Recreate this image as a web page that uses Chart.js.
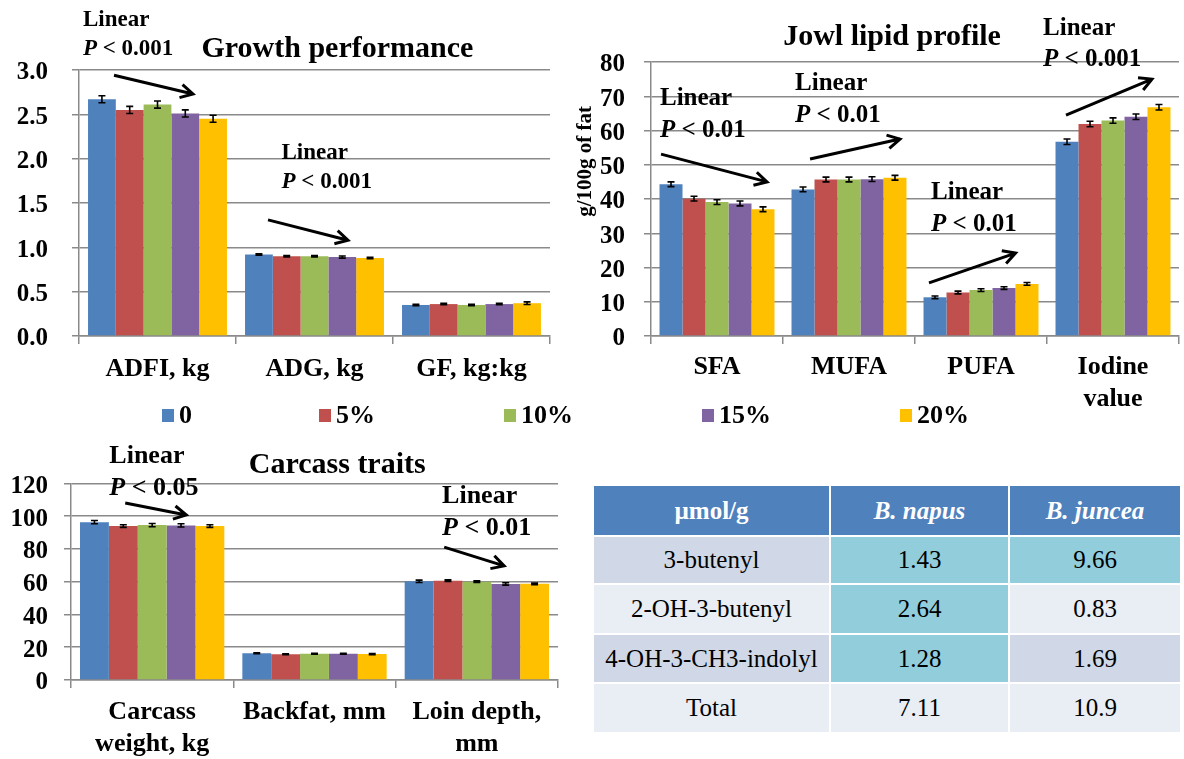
<!DOCTYPE html>
<html>
<head>
<meta charset="utf-8">
<script src="https://cdn.jsdelivr.net/npm/chart.js@4.4.1/dist/chart.umd.min.js"></script>
<style>
  html, body { margin: 0; padding: 0; background: #fff; }
  body { width: 1184px; height: 759px; position: relative; overflow: hidden;
         font-family: "Liberation Serif", "Times New Roman", serif; }
  canvas { position: absolute; }
  #growth  { left: 0;     top: 0; }
  #lipid   { left: 570px; top: 0; }
  #carcass { left: 0;     top: 440px; }
  #legend { position: absolute; left: 0; top: 399px; width: 1184px; height: 32px; }
  .item { position: absolute; top: 0; height: 32px; display: flex; align-items: center;
          font-weight: bold; font-size: 26px; color: #000; }
  .swatch { width: 12px; height: 13px; margin-right: 5px; }
  #gluc { position: absolute; left: 594px; top: 489px; display: grid;
          grid-template-columns: 235px 177px 170px; grid-template-rows: 46px 46px 48px 47px 48px;
          column-gap: 2px; row-gap: 2px; }
  .cell { display: flex; align-items: center; justify-content: center; font-size: 25px; color: #000; }
  .head { background: #4F81BD; color: #fff; font-weight: bold; margin-bottom: -3px; position: relative; top: -3px; }
  .head i { font-weight: bold; }
</style>
</head>
<body>
<canvas id="growth" width="575" height="400"></canvas>
<canvas id="lipid" width="614" height="440"></canvas>
<canvas id="carcass" width="590" height="319"></canvas>
<div id="legend"></div>
<div id="gluc"></div>

<script>
// Dietary inclusion levels (series)
const seriesNames  = ['0', '5%', '10%', '15%', '20%'];
const seriesColors = ['#4F81BD', '#C0504D', '#9BBB59', '#8064A2', '#FFC000'];

// Growth performance
const growthCategories = ['ADFI, kg', 'ADG, kg', 'GF, kg:kg'];
const growth0  = [2.67, 0.92, 0.35];
const growth5  = [2.55, 0.90, 0.36];
const growth10 = [2.61, 0.90, 0.35];
const growth15 = [2.51, 0.89, 0.36];
const growth20 = [2.45, 0.88, 0.37];
const growthErr0  = [0.04, 0.008, 0.008];
const growthErr5  = [0.04, 0.008, 0.008];
const growthErr10 = [0.04, 0.008, 0.008];
const growthErr15 = [0.04, 0.012, 0.008];
const growthErr20 = [0.04, 0.008, 0.015];
const growthTicks = [0, 0.5, 1.0, 1.5, 2.0, 2.5, 3.0];

// Jowl lipid profile, g/100 g of fat
const lipidCategories = ['SFA', 'MUFA', 'PUFA', ['Iodine', 'value']];
const lipid0  = [44.3, 42.8, 11.3, 56.7];
const lipid5  = [40.1, 45.7, 12.7, 61.9];
const lipid10 = [39.1, 45.7, 13.4, 62.9];
const lipid15 = [38.7, 45.8, 14.0, 64.0];
const lipid20 = [37.0, 46.2, 15.2, 66.8];
const lipidErr0  = [0.7, 0.7, 0.4, 0.8];
const lipidErr5  = [0.7, 0.7, 0.4, 0.8];
const lipidErr10 = [0.7, 0.7, 0.4, 0.8];
const lipidErr15 = [0.7, 0.7, 0.4, 0.8];
const lipidErr20 = [0.7, 0.7, 0.4, 0.8];
const lipidTicks = [0, 10, 20, 30, 40, 50, 60, 70, 80];

// Carcass traits
const carcassCategories = [['Carcass', 'weight, kg'], 'Backfat, mm', ['Loin depth,', 'mm']];
const carcass0  = [96.3, 16.3, 60.2];
const carcass5  = [93.9, 15.7, 60.6];
const carcass10 = [94.5, 16.0, 60.0];
const carcass15 = [94.3, 16.0, 58.6];
const carcass20 = [93.9, 15.8, 58.7];
const carcassErr0  = [1.0, 0.3, 0.7];
const carcassErr5  = [0.8, 0.3, 0.5];
const carcassErr10 = [1.0, 0.3, 0.5];
const carcassErr15 = [1.0, 0.3, 0.7];
const carcassErr20 = [0.8, 0.3, 0.5];
const carcassTicks = [0, 20, 40, 60, 80, 100, 120];

// Glucosinolate content of the two meals, µmol/g
const glucHeader    = ['µmol/g', 'B. napus', 'B. juncea'];
const glucCompounds = ['3-butenyl', '2-OH-3-butenyl', '4-OH-3-CH3-indolyl', 'Total'];
const glucNapus     = ['1.43', '2.64', '1.28', '7.11'];
const glucJuncea    = ['9.66', '0.83', '1.69', '10.9'];

const FONT = '"Liberation Serif", "Times New Roman", serif';
const GRID = '#8a8a8a';

// whisker for every bar: value ± error, through the y scale
const errorBars = {
  id: 'errorBars',
  afterDatasetsDraw(chart) {
    const ctx = chart.ctx, ys = chart.scales.y;
    ctx.save();
    ctx.strokeStyle = '#000';
    ctx.lineWidth = 1.6;
    chart.data.datasets.forEach((ds, i) => {
      chart.getDatasetMeta(i).data.forEach((bar, j) => {
        const v = ds.data[j], e = ds.errors[j];
        const x = bar.x, y1 = ys.getPixelForValue(v + e), y2 = ys.getPixelForValue(v - e);
        ctx.beginPath();
        ctx.moveTo(x, y1); ctx.lineTo(x, y2);
        ctx.moveTo(x - 3.5, y1); ctx.lineTo(x + 3.5, y1);
        ctx.moveTo(x - 3.5, y2); ctx.lineTo(x + 3.5, y2);
        ctx.stroke();
      });
    });
    ctx.restore();
  }
};

function arrow(ctx, x1, y1, x2, y2) {
  const a = Math.atan2(y2 - y1, x2 - x1), L = 14, w = 0.5;
  ctx.beginPath();
  ctx.moveTo(x1, y1); ctx.lineTo(x2, y2);
  ctx.moveTo(x2 - L * Math.cos(a - w), y2 - L * Math.sin(a - w));
  ctx.lineTo(x2, y2);
  ctx.lineTo(x2 - L * Math.cos(a + w), y2 - L * Math.sin(a + w));
  ctx.stroke();
}

// panel title, axis title and linear-trend notes, placed in data units
const notes = {
  id: 'notes',
  afterDraw(chart, args, o) {
    const ctx = chart.ctx, xs = chart.scales.x, ys = chart.scales.y;
    const px = v => xs.getPixelForValue(v), py = v => ys.getPixelForValue(v);
    ctx.save();
    ctx.fillStyle = '#000';
    ctx.strokeStyle = '#000';
    ctx.textBaseline = 'middle';
    if (o.title) {
      ctx.font = `bold 30px ${FONT}`;
      ctx.textAlign = 'center';
      ctx.fillText(o.title.text, px(o.title.at[0]), py(o.title.at[1]));
    }
    if (o.yTitle) {
      ctx.save();
      ctx.translate(ys.left + o.yTitle.dx, py(o.yTitle.at));
      ctx.rotate(-Math.PI / 2);
      ctx.font = `bold 21px ${FONT}`;
      ctx.textAlign = 'center';
      ctx.fillText(o.yTitle.text, 0, 0);
      ctx.restore();
    }
    ctx.textAlign = 'left';
    ctx.lineWidth = 3;
    (o.trends || []).forEach(t => {
      const x = px(t.text[0]), y = py(t.text[1]);
      ctx.font = `bold ${o.size}px ${FONT}`;
      ctx.fillText('Linear', x, y);
      const y2 = y + o.size * 1.25;
      ctx.font = `italic bold ${o.size}px ${FONT}`;
      ctx.fillText('P', x, y2);
      const w = ctx.measureText('P').width;
      ctx.font = `bold ${o.size}px ${FONT}`;
      ctx.fillText(' < ' + t.p, x + w, y2);
      arrow(ctx, px(t.from[0]), py(t.from[1]), px(t.to[0]), py(t.to[1]));
    });
    ctx.restore();
  }
};

function barChart(id, labels, series, errs, cfg) {
  return new Chart(document.getElementById(id), {
    type: 'bar',
    data: {
      labels,
      datasets: series.map((d, i) => ({
        label: seriesNames[i], data: d, errors: errs[i],
        backgroundColor: seriesColors[i], borderWidth: 0,
        categoryPercentage: cfg.cat, barPercentage: 1
      }))
    },
    options: {
      responsive: false, animation: false, devicePixelRatio: 1,
      layout: { padding: cfg.pad },
      events: [],
      plugins: { legend: { display: false }, tooltip: { enabled: false }, notes: cfg.notes },
      scales: {
        x: {
          grid: { offset: true, drawOnChartArea: false, color: GRID, lineWidth: 1.5, tickLength: 8 },
          border: { color: GRID, width: 1.5 },
          ticks: { color: '#000', font: { family: FONT, size: 26, weight: 'bold', lineHeight: 1.2 },
                   padding: cfg.xPad, maxRotation: 0, autoSkip: false },
          afterFit: s => { s.height = cfg.xH; }
        },
        y: {
          min: cfg.ticks[0], max: cfg.ticks[cfg.ticks.length - 1],
          afterBuildTicks: s => { s.ticks = cfg.ticks.map(v => ({ value: v })); },
          grid: { color: GRID, lineWidth: 1.5, tickLength: 7 },
          border: { color: GRID, width: 1.5 },
          ticks: { color: '#000', font: { family: FONT, size: 25, weight: 'bold' },
                   padding: cfg.yPad, labelOffset: 3, autoSkip: false,
                   callback: v => v.toFixed(cfg.dec) },
          afterFit: s => { s.width = cfg.yW; }
        }
      }
    },
    plugins: [errorBars, notes]
  });
}

barChart('growth', growthCategories,
  [growth0, growth5, growth10, growth15, growth20],
  [growthErr0, growthErr5, growthErr10, growthErr15, growthErr20],
  { cat: 0.885, pad: { left: 0, top: 70, right: 25, bottom: 0 }, xH: 64, yW: 79,
    xPad: 10, yPad: 24, ticks: growthTicks, dec: 1,
    notes: {
      size: 23,
      title: { text: 'Growth performance', at: [1.146, 3.23] },
      trends: [
        { text: [-0.475, 3.56], p: '0.001', from: [-0.277, 2.94], to: [0.226, 2.73] },
        { text: [0.79, 2.06],  p: '0.001', from: [0.704, 1.31], to: [1.213, 1.08] }
      ]
    } });

barChart('lipid', lipidCategories,
  [lipid0, lipid5, lipid10, lipid15, lipid20],
  [lipidErr0, lipidErr5, lipidErr10, lipidErr15, lipidErr20],
  { cat: 0.871, pad: { left: 0, top: 62, right: 5, bottom: 0 }, xH: 104, yW: 81,
    xPad: 8, yPad: 19, ticks: lipidTicks, dec: 0,
    notes: {
      size: 25,
      title: { text: 'Jowl lipid profile', at: [1.326, 87.3] },
      yTitle: { text: 'g/100g of fat', at: 51, dx: 16 },
      trends: [
        { text: [-0.432, 69.2], p: '0.01',  from: [-0.424, 53.1], to: [0.379, 45.0] },
        { text: [0.591, 73.6],  p: '0.01',  from: [0.705, 51.7],  to: [1.386, 57.5] },
        { text: [1.621, 41.8],  p: '0.01',  from: [1.606, 15.5],  to: [2.262, 24.2] },
        { text: [2.47, 89.9],   p: '0.001', from: [2.644, 64.5],  to: [3.295, 75.0] }
      ]
    } });

barChart('carcass', carcassCategories,
  [carcass0, carcass5, carcass10, carcass15, carcass20],
  [carcassErr0, carcassErr5, carcassErr10, carcassErr15, carcassErr20],
  { cat: 0.889, pad: { left: 0, top: 43.3, right: 32, bottom: 0 }, xH: 79, yW: 71,
    xPad: 9, yPad: 16, ticks: carcassTicks, dec: 0,
    notes: {
      size: 26,
      title: { text: 'Carcass traits', at: [1.14, 131.2] },
      trends: [
        { text: [-0.264, 136.7], p: '0.05', from: [-0.166, 108.0], to: [0.21, 100.7] },
        { text: [1.786, 112.3],  p: '0.01', from: [1.799, 81.1],   to: [2.168, 69.6] }
      ]
    } });

// shared legend row
const legendLeft = [162, 319, 504, 702, 900];
const legend = document.getElementById('legend');
seriesNames.forEach((name, i) => {
  const item = document.createElement('div');
  item.className = 'item';
  item.style.left = legendLeft[i] + 'px';
  item.innerHTML = `<span class="swatch" style="background:${seriesColors[i]}"></span>${name}`;
  legend.appendChild(item);
});

// glucosinolate table
const bandDark = '#D0D8E8', bandLight = '#E9EDF4', teal = '#92CDDC';
const rowBand = [bandDark, bandLight, bandDark, bandLight];
const napusFill  = [teal, teal, teal, bandLight];
const junceaFill = [teal, bandLight, bandDark, bandLight];
const gluc = document.getElementById('gluc');
glucHeader.forEach((h, i) => {
  const c = document.createElement('div');
  c.className = 'cell head';
  c.innerHTML = i === 0 ? h : `<i>${h}</i>`;
  gluc.appendChild(c);
});
glucCompounds.forEach((name, r) => {
  [[name, rowBand[r]], [glucNapus[r], napusFill[r]], [glucJuncea[r], junceaFill[r]]].forEach(([t, bg]) => {
    const c = document.createElement('div');
    c.className = 'cell';
    c.style.background = bg;
    c.textContent = t;
    gluc.appendChild(c);
  });
});
</script>
</body>
</html>
